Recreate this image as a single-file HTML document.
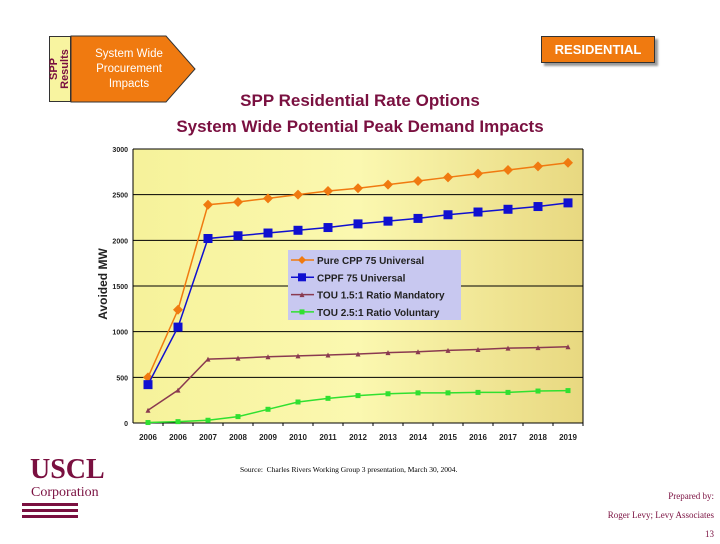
<!DOCTYPE html>
<html><head><meta charset="utf-8"><style>
body{margin:0;width:720px;height:540px;background:#fff;position:relative;overflow:hidden;font-family:"Liberation Sans",sans-serif}
.a{position:absolute}
</style></head><body>
<div class="a" style="left:49px;top:36px;width:22px;height:66px;background:#f8f4a0;border:1px solid #333;box-sizing:border-box"></div>
<div class="a" style="left:27px;top:58px;width:66px;height:22px;transform:rotate(-90deg);font-size:11px;font-weight:bold;color:#7a1040;text-align:center;line-height:11px">SPP<br>Results</div>
<svg class="a" style="left:70px;top:35px" width="130" height="68"><polygon points="1,1 96,1 125,34 96,67 1,67" fill="#f07a10" stroke="#333" stroke-width="1"/></svg>
<div class="a" style="left:84px;top:47px;width:90px;color:#fff;font-size:11.5px;text-align:center;line-height:15px">System Wide<br>Procurement<br>Impacts</div>
<div class="a" style="left:541px;top:36px;width:114px;height:27px;background:#f07a10;border:1px solid #333;box-shadow:3px 3px 2px #999;box-sizing:border-box;color:#fff;font-weight:bold;font-size:13px;text-align:center;line-height:25px">RESIDENTIAL</div>
<div class="a" style="left:100px;top:88px;width:520px;text-align:center;color:#7a1040;font-weight:bold;font-size:17px;line-height:26px">SPP Residential Rate Options<br>System Wide Potential Peak Demand Impacts</div>
<svg class="a" style="left:0;top:0" width="720" height="540" id="chart">
<defs><linearGradient id="g" x1="0" x2="1"><stop offset="0" stop-color="#f6f29a"/><stop offset="0.5" stop-color="#fbf8b0"/><stop offset="1" stop-color="#e8d880"/></linearGradient></defs>
</svg>
<div class="a" style="left:63px;top:277px;width:80px;text-align:center;transform:rotate(-90deg);font-size:12px;font-weight:bold;color:#222">Avoided MW</div>
<div class="a" style="left:30px;top:455px;font-family:'Liberation Serif',serif;color:#7a1040;font-weight:bold;font-size:28px;line-height:30px">USCL</div>
<div class="a" style="left:31px;top:485px;font-family:'Liberation Serif',serif;color:#7a1040;font-size:14px">Corporation</div>
<div class="a" style="left:22px;top:503px;width:56px"><div style="height:3px;background:#7a1040;margin-bottom:3px"></div><div style="height:3px;background:#7a1040;margin-bottom:3px"></div><div style="height:3px;background:#7a1040"></div></div>
<div class="a" style="left:240px;top:465px;font-family:'Liberation Serif',serif;font-size:7.5px;color:#000">Source:&nbsp; Charles Rivers Working Group 3 presentation, March 30, 2004.</div>
<div class="a" style="right:6px;top:487px;text-align:right;font-family:'Liberation Serif',serif;font-size:9px;color:#7a1040;line-height:19px">Prepared by:<br>Roger Levy; Levy Associates<br>13</div>
<script>
const categories=["2005","2006","2007","2008","2009","2010","2011","2012","2013","2014","2015","2016","2017","2018","2019"];
const tickLabels=["2006","2006","2007","2008","2009","2010","2011","2012","2013","2014","2015","2016","2017","2018","2019"];
const yTicks=[0,500,1000,1500,2000,2500,3000];
const pureCpp=[500,1240,2390,2420,2460,2500,2540,2570,2610,2650,2690,2730,2770,2810,2850];
const cppf=[420,1050,2020,2050,2080,2110,2140,2180,2210,2240,2280,2310,2340,2370,2410];
const touMandatory=[140,360,700,710,725,735,745,755,770,780,795,805,820,825,835];
const touVoluntary=[5,15,30,70,150,230,270,300,320,330,330,335,335,350,355];
const names=["Pure CPP 75 Universal","CPPF 75 Universal","TOU 1.5:1 Ratio Mandatory","TOU 2.5:1 Ratio Voluntary"];
const NS="http://www.w3.org/2000/svg",svg=document.getElementById('chart');
const L=133,R=583,T=149,B=423,bw=(R-L)/categories.length;
const x=i=>L+bw*(i+0.5), y=v=>B-(v/3000)*(B-T);
function mk(t,a,p){const e=document.createElementNS(NS,t);for(const k in a)e.setAttribute(k,a[k]);(p||svg).appendChild(e);return e;}
let e=mk('rect',{x:L,y:T,width:R-L,height:B-T,fill:'url(#g)'});


yTicks.forEach(v=>{let g=mk('line',{x1:L,x2:R,y1:y(v),y2:y(v),stroke:'#000','stroke-width':1});


let t=mk('text',{x:L-5,y:y(v)+3,'text-anchor':'end','font-size':7,'font-weight':'bold',fill:'#222'});t.textContent=v;

});
mk('line',{x1:L,x2:L,y1:T,y2:B,stroke:'#000'});
mk('line',{x1:R,x2:R,y1:T,y2:B,stroke:'#000'});
categories.forEach((c,i)=>{mk('line',{x1:L+bw*(i+1),x2:L+bw*(i+1),y1:B,y2:B+3,stroke:'#000'});
let t=mk('text',{x:x(i),y:B+17,'text-anchor':'middle','font-size':8,'font-weight':'bold',fill:'#222'});t.textContent=tickLabels[i];

});
const series=[[pureCpp,'#f07a10','diamond',5],[cppf,'#1010d0','square',4.5],[touMandatory,'#8a3a50','tri',2.5],[touVoluntary,'#30e030','square',2.5]];
function marker(s,cx,cy,col,r,p){if(s=='diamond')return mk('polygon',{points:`${cx},${cy-r} ${cx+r},${cy} ${cx},${cy+r} ${cx-r},${cy}`,fill:col},p);
if(s=='tri')return mk('polygon',{points:`${cx},${cy-r} ${cx+r},${cy+r} ${cx-r},${cy+r}`,fill:col},p);
return mk('rect',{x:cx-r,y:cy-r,width:2*r,height:2*r,fill:col},p);}
series.forEach(([d,col,s,r],k)=>{const g=mk('g',{});


mk('polyline',{points:d.map((v,i)=>x(i)+','+y(v)).join(' '),fill:'none',stroke:col,'stroke-width':1.5},g);
d.forEach((v,i)=>{const m=marker(s,x(i),y(v),col,r,g);

});});
const lg=mk('g',{});


mk('rect',{x:288,y:250,width:173,height:70,fill:'#c8c8f0'},lg);
series.forEach(([d,col,s,r],k)=>{const yy=260+k*17.3;
mk('line',{x1:291,x2:314,y1:yy,y2:yy,stroke:col,'stroke-width':1.5},lg);
marker(s,302,yy,col,Math.min(r,4),lg);
const t=mk('text',{x:317,y:yy+4,'font-size':10,'font-weight':'bold',fill:'#222'},lg);t.textContent=names[k];

});
</script>
</body></html>
